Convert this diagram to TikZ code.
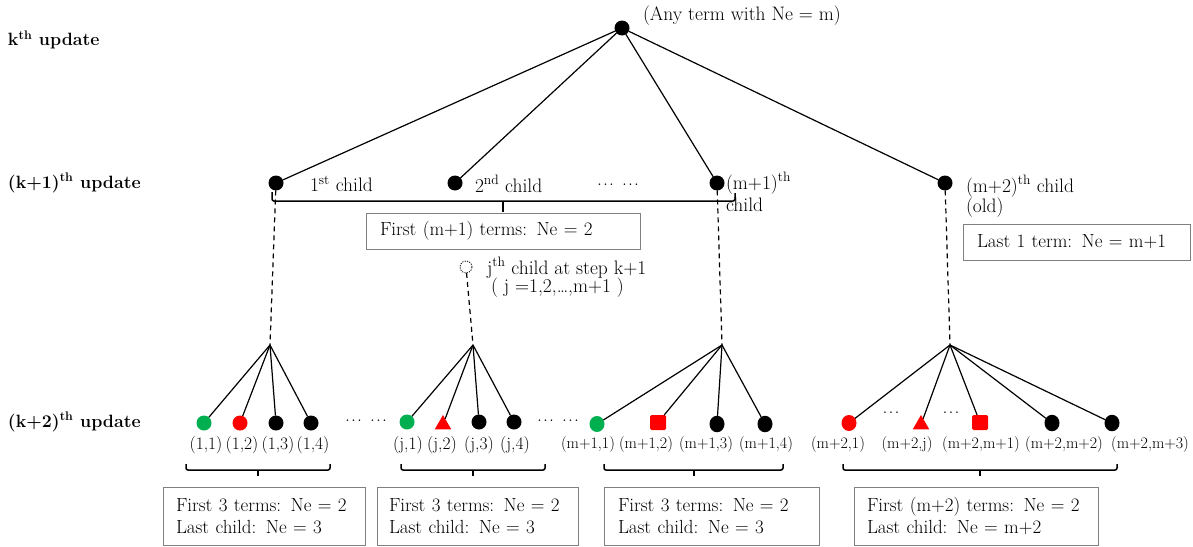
\documentclass[tikz,border=0pt]{standalone}
\usetikzlibrary{shapes.geometric}
\definecolor{mygreen}{RGB}{0,176,80}
\definecolor{myred}{RGB}{255,0,0}
\definecolor{boxgray}{RGB}{128,128,128}
\newcommand{\mydots}{\makebox[17pt]{.\hfill.\hfill.}}
\tikzset{
  every node/.style={inner sep=0pt, outer sep=0pt},
  dot/.style={circle, fill=black, minimum size=15pt},
  gdot/.style={dot, fill=mygreen},
  rdot/.style={dot, fill=myred},
  bell/.style={ellipse, fill=black, minimum width=15pt, minimum height=16.5pt},
  gell/.style={bell, fill=mygreen, minimum height=16pt},
  rell/.style={bell, fill=myred, minimum height=16pt},
  rsq/.style={rectangle, rounded corners=1.5pt, fill=myred, minimum width=16pt, minimum height=15pt},
  rtri/.style={regular polygon, regular polygon sides=3, fill=myred, minimum size=19pt},
  jdot/.style={circle, draw, dash pattern=on 1.2pt off 1.2pt, minimum size=12pt, line width=0.8pt},
  txt/.style={font=\fontsize{19.5}{23}\selectfont},
  idx/.style={font=\fontsize{17.5}{20}\selectfont},
  idxs/.style={font=\fontsize{16}{19}\selectfont},
  lvl/.style={font=\fontsize{17.8}{21}\selectfont\bfseries},
  box/.style={draw=boxgray, line width=0.9pt, inner xsep=12pt, align=left, font=\fontsize{19}{22.5}\selectfont},
  edge/.style={line width=1.2pt},
  dline/.style={line width=1.2pt, dash pattern=on 5pt off 4pt},
  brace/.style={line width=1.5pt, rounded corners=2pt},
}
\begin{document}
\begin{tikzpicture}[x=1pt,y=-1pt]
\useasboundingbox (0,0) rectangle (1193,546);

% level labels
\node[lvl, anchor=west] (l0) at (8,40) {k\textsuperscript{th} update};
\node[lvl, anchor=west] (l1) at (8,183) {(k+1)\textsuperscript{th} update};
\node[lvl, anchor=west] (l2) at (8,422) {(k+2)\textsuperscript{th} update};

% root
\node[dot] (r) at (622,28) {};
\node[txt, anchor=west] (rl) at (643,16) {(Any term with Ne = m)};

% level 1
\node[dot] (c1) at (276,183) {};
\node[dot] (c2) at (455,183) {};
\node[dot] (c3) at (717,183) {};
\node[dot] (c4) at (945,183) {};
\foreach \c in {c1,c2,c3,c4} \draw[edge] (r) -- (\c);

\node[txt, anchor=west] (t1) at (310,184) {1\textsuperscript{st} child};
\node[txt, anchor=west] (t2) at (475,184) {2\textsuperscript{nd} child};
\node[txt, anchor=west] (t3) at (597,185) {\mydots\hspace{8pt}\mydots};
\node[txt, anchor=west] (t4) at (726,183) {(m+1)\textsuperscript{th}};
\node[txt, anchor=west] (t4b) at (726,205) {child};
\node[txt, anchor=west] (t5) at (966,186) {(m+2)\textsuperscript{th} child};
\node[txt, anchor=west] (t5b) at (966,208) {(old)};

% top brace
\draw[brace] (272,192) -- (272,201) -- (735,201) -- (735,193);
\draw[line width=1.5pt] (503,201) -- (503,212);

\node[box, inner xsep=14pt, text width=246pt, minimum height=36pt] (bt) at (503,231) {First (m+1) terms: Ne = 2};
\node[box, inner xsep=14pt, text width=199pt, minimum height=36pt] (br) at (1076.5,242) {Last 1 term: Ne = m+1};

% j-th child
\node[jdot] (jc) at (466,267) {};
\node[txt, anchor=west] (jl) at (487,268) {j\textsuperscript{th} child at step k+1};
\node[txt, anchor=west] (jl2) at (491,288) {( j =1,2,\ldots,m+1 )};

% fan points
\coordinate (f1) at (270,345);
\coordinate (f2) at (473,345);
\coordinate (f3) at (722,345);
\coordinate (f4) at (950,345);
\draw[dline] (c1) -- (f1);
\draw[dline] (jc) -- (f2);
\draw[dline] (c3) -- (f3);
\draw[dline] (c4) -- (f4);

% group 1
\node[gdot] (n11) at (204,423) {};
\node[rdot] (n12) at (240,423) {};
\node[dot] (n13) at (276,423) {};
\node[dot] (n14) at (311,423) {};
% group 2
\node[gdot] (n21) at (407,422) {};
\node[rtri] (n22) at (443,424.5) {};
\node[dot] (n23) at (479,422) {};
\node[dot] (n24) at (514,422) {};
% group 3
\node[gell] (n31) at (597,424) {};
\node[rsq] (n32) at (658,422.5) {};
\node[bell] (n33) at (717,424) {};
\node[bell] (n34) at (765,424) {};
% group 4
\node[rell] (n41) at (849,423) {};
\node[rtri] (n42) at (921,424.5) {};
\node[rsq] (n43) at (980,422.5) {};
\node[bell] (n44) at (1052,423) {};
\node[bell] (n45) at (1112,423) {};

\foreach \n in {n11,n12,n13,n14} \draw[edge] (f1) -- (\n);
\foreach \n in {n21,n22,n23,n24} \draw[edge] (f2) -- (\n);
\foreach \n in {n31,n32,n33,n34} \draw[edge] (f3) -- (\n);
\foreach \n in {n41,n42,n43,n44,n45} \draw[edge] (f4) -- (\n);

% dots between
\node[txt] (d1) at (366,421) {\mydots\hspace{8pt}\mydots};
\node[txt] (d2) at (558,421) {\mydots\hspace{8pt}\mydots};
\node[txt] (d3) at (891,413) {\mydots};
\node[txt] (d4) at (951,413) {\mydots};

% index labels
\node[idx] (i11) at (206,445) {(1,1)};
\node[idx] (i12) at (242,445) {(1,2)};
\node[idx] (i13) at (278,445) {(1,3)};
\node[idx] (i14) at (313,445) {(1,4)};
\node[idx] (i21) at (408,445) {(j,1)};
\node[idx] (i22) at (442,445) {(j,2)};
\node[idx] (i23) at (479,445) {(j,3)};
\node[idx] (i24) at (515,445) {(j,4)};
\node[idxs] (i31) at (588,445) {(m+1,1)};
\node[idxs] (i32) at (646,445) {(m+1,2)};
\node[idxs] (i33) at (706,445) {(m+1,3)};
\node[idxs] (i34) at (766,445) {(m+1,4)};
\node[idxs] (i41) at (838,445) {(m+2,1)};
\node[idxs] (i42) at (907,445) {(m+2,j)};
\node[idxs] (i43) at (981,445) {(m+2,m+1)};
\node[idxs] (i44) at (1064,445) {(m+2,m+2)};
\node[idxs] (i45) at (1150,445) {(m+2,m+3)};

% bottom braces
\draw[brace] (186,464) -- (186,470) -- (330,470) -- (330,464);
\draw[line width=1.5pt] (258,470) -- (258,476);
\draw[brace] (401,464) -- (401,470) -- (545,470) -- (545,464);
\draw[line width=1.5pt] (473,470) -- (473,476);
\draw[brace] (604,464) -- (604,470) -- (783,470) -- (783,464);
\draw[line width=1.5pt] (694,470) -- (694,476);
\draw[brace] (843,464) -- (843,470) -- (1117,470) -- (1117,464);
\draw[line width=1.5pt] (980,470) -- (980,476);

% bottom boxes
\node[box, inner xsep=13pt, text width=176pt, minimum height=58pt] (b1) at (264,516) {First 3 terms: Ne = 2\\Last child: Ne = 3};
\node[box, text width=177pt, minimum height=58pt] (b2) at (477.5,516) {First 3 terms: Ne = 2\\Last child: Ne = 3};
\node[box, inner xsep=14pt, text width=187pt, minimum height=58pt] (b3) at (711.5,516) {First 3 terms: Ne = 2\\Last child: Ne = 3};
\node[box, inner xsep=13pt, text width=218pt, minimum height=58pt] (b4) at (976,516) {First (m+2) terms: Ne = 2\\Last child: Ne = m+2};
\end{tikzpicture}
\end{document}
